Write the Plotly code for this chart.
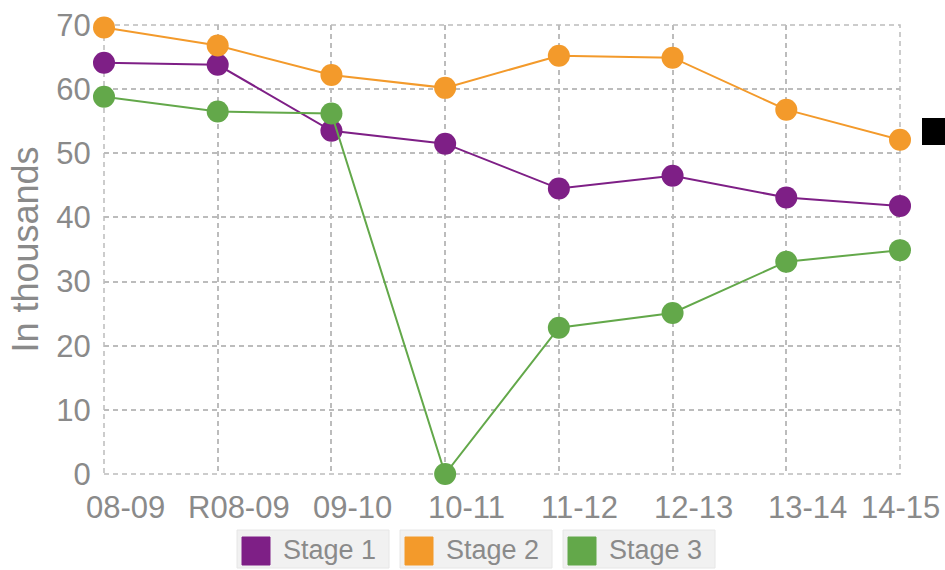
import plotly.graph_objects as go

categories = ["08-09", "R08-09", "09-10", "10-11", "11-12", "12-13", "13-14", "14-15"]
stage1 = [64.1, 63.8, 53.5, 51.5, 44.5, 46.5, 43.1, 41.8]
stage2 = [69.6, 66.8, 62.2, 60.2, 65.2, 64.9, 56.8, 52.1]
stage3 = [58.8, 56.5, 56.2, 0.0, 22.8, 25.1, 33.1, 34.9]
series_names = ["Stage 1", "Stage 2", "Stage 3"]
colors = ["#7E1F86", "#F39A2B", "#63A84A"]
y_ticks = [0, 10, 20, 30, 40, 50, 60, 70]

FONT = "Liberation Sans, Arial, sans-serif"
TEXT = "#8a8a8a"
GRID = "#bcbcbc"

# plot-area geometry (pixels) used to convert legend positions to paper coords
L, R, T, B = 104, 900, 25, 474
W, H = 945, 570


def px(x):
    return (x - L) / (R - L)


def py(y):
    return (B - y) / (B - T)


fig = go.Figure()
for name, vals, col in zip(series_names, [stage1, stage2, stage3], colors):
    fig.add_trace(go.Scatter(
        x=list(range(len(categories))), y=vals, name=name, mode="lines+markers",
        line=dict(color=col, width=2),
        marker=dict(color=col, size=22, line=dict(width=0)),
        cliponaxis=False, showlegend=False,
    ))

fig.update_layout(
    width=W, height=H,
    margin=dict(l=L, r=W - R, t=T, b=H - B),
    paper_bgcolor="white", plot_bgcolor="white",
    font=dict(family=FONT, color=TEXT),
    xaxis=dict(
        range=[0, len(categories) - 1], tickmode="array",
        tickvals=list(range(len(categories))), ticktext=categories,
        showticklabels=False, automargin=False,
        showgrid=True, gridcolor=GRID, griddash="5px,4px", gridwidth=1.5,
        zeroline=False, showline=False, ticks="",
    ),
    yaxis=dict(
        range=[0, 70], tickmode="array", tickvals=y_ticks, automargin=False,
        showgrid=True, gridcolor=GRID, griddash="5px,4px", gridwidth=1.5,
        zeroline=False, showline=False, ticks="outside", ticklen=6,
        tickcolor="rgba(0,0,0,0)",
        tickfont=dict(size=31, color=TEXT, family=FONT),
        title=dict(text="In thousands", font=dict(size=36, color=TEXT, family=FONT), standoff=6),
    ),
)

# x tick labels (offset to the right as in the original; last one kept inside)
for i, cat in enumerate(categories):
    last = i == len(categories) - 1
    fig.add_annotation(
        xref="x", yref="paper", x=i, y=py(488), xanchor="center", yanchor="top",
        xshift=0 if last else 21, text=cat, showarrow=False,
        font=dict(size=31, color=TEXT, family=FONT),
    )

# dashed border on plot edges (grid lines at range ends)
fig.add_shape(type="rect", xref="paper", yref="paper", x0=0, x1=1, y0=0, y1=1,
              line=dict(color=GRID, width=1.5, dash="5px,4px"), layer="below")

# custom boxed legend
box_left = [237, 400, 563]
for i, (name, col) in enumerate(zip(series_names, colors)):
    bx = box_left[i]
    fig.add_shape(type="rect", xref="paper", yref="paper",
                  x0=px(bx), x1=px(bx + 152), y0=py(568), y1=py(530),
                  fillcolor="#f1f1f1", line=dict(color="#e6e6e6", width=1))
    fig.add_shape(type="rect", xref="paper", yref="paper",
                  x0=px(bx + 5), x1=px(bx + 33), y0=py(565), y1=py(537),
                  fillcolor=col, line=dict(color=col, width=1))
    fig.add_annotation(
        xref="paper", yref="paper", x=px(bx + 44), y=py(550),
        xanchor="left", yanchor="middle", text=name, showarrow=False,
        font=dict(size=27, color=TEXT, family=FONT),
    )

# black marker at the right edge
fig.add_shape(type="rect", xref="paper", yref="paper",
              x0=px(922), x1=px(946), y0=py(145), y1=py(118),
              fillcolor="black", line=dict(width=0), layer="above")

fig.write_html("out.html")
